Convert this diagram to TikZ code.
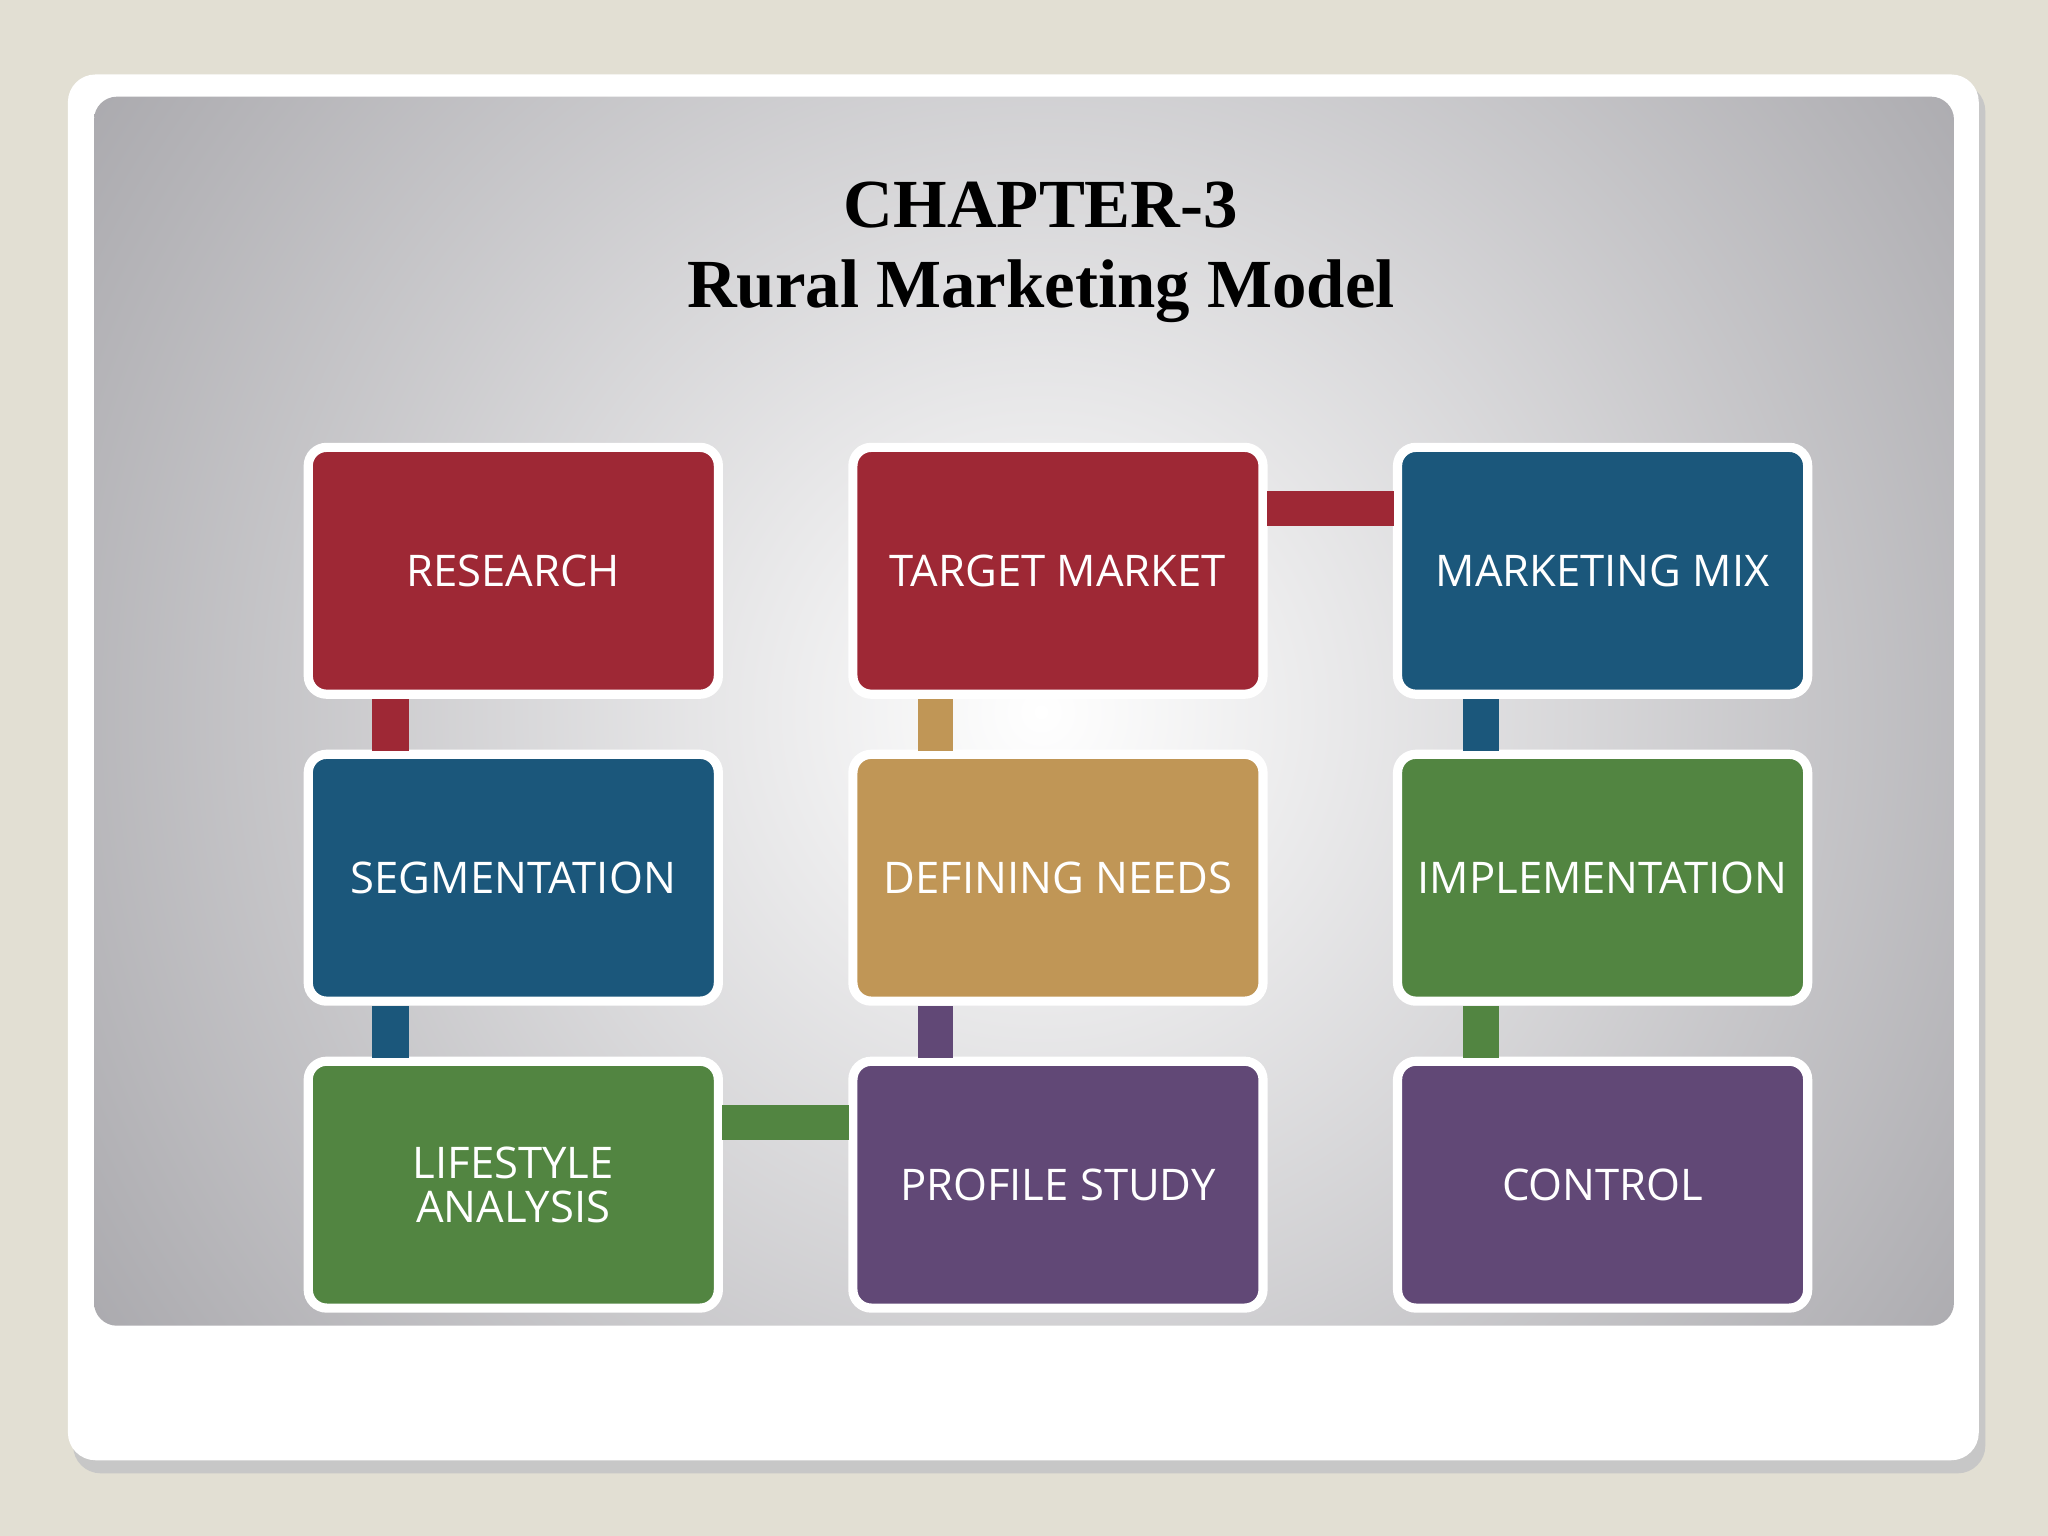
\documentclass[tikz,border=0pt]{standalone}
\usepackage{fontspec}
\setmainfont{Liberation Serif}
\newfontfamily\boxfont{Open Sans}
\definecolor{bgbeige}{HTML}{E2DFD3}
\definecolor{cred}{HTML}{9E2835}
\definecolor{cblue}{HTML}{1B577B}
\definecolor{cgold}{HTML}{C09656}
\definecolor{cgreen}{HTML}{528541}
\definecolor{cpurple}{HTML}{614876}
\definecolor{panelgray}{HTML}{9E9DA2}
\tikzset{
  stepbox/.style={draw=white,line width=2pt,rounded corners=4pt,minimum width=31.4mm,minimum height=18.9mm,
    text=white,font=\boxfont\fontsize{9.5}{9.5}\selectfont,align=center,inner sep=0pt}
}
\begin{document}
\begin{tikzpicture}[x=0.1mm,y=-0.1mm]
\useasboundingbox (0,0) rectangle (1568,1176);
\fill[bgbeige] (0,0) rectangle (1568,1176);
\fill[black!22,rounded corners=6pt] (56,64) rectangle (1520,1128);
\fill[white,rounded corners=6pt] (52,57) rectangle (1515,1118);
\begin{scope}
\clip[rounded corners=5pt] (72,74) rectangle (1496,1015);
\shade[inner color=white,outer color=panelgray] (797,545) circle (1000);
\end{scope}
\node[font=\bfseries\fontsize{15}{17.5}\selectfont,align=center] (title) at (797,193) {CHAPTER-3\\Rural Marketing Model};
% boxes
\node[stepbox,fill=cred] (research) at (393,437) {RESEARCH};
\node[stepbox,fill=cred] (target) at (810,437) {TARGET MARKET};
\node[stepbox,fill=cblue] (mix) at (1227,437) {MARKETING MIX};
\node[stepbox,fill=cblue] (seg) at (393,672) {SEGMENTATION};
\node[stepbox,fill=cgold] (needs) at (810,672) {DEFINING NEEDS};
\node[stepbox,fill=cgreen] (impl) at (1227,672) {IMPLEMENTATION};
\node[stepbox,fill=cgreen] (life) at (393,907) {LIFESTYLE\\ANALYSIS};
\node[stepbox,fill=cpurple] (profile) at (810,907) {PROFILE STUDY};
\node[stepbox,fill=cpurple] (control) at (1227,907) {CONTROL};
% connectors
\fill[cred] (285,535) rectangle (313,575);
\fill[cblue] (285,770) rectangle (313,810);
\fill[cgold] (703,535) rectangle (730,575);
\fill[cpurple] (703,770) rectangle (730,810);
\fill[cblue] (1120,535) rectangle (1148,575);
\fill[cgreen] (1120,770) rectangle (1148,810);
\fill[cred] (970,376) rectangle (1067,403);
\fill[cgreen] (553,846) rectangle (650,873);
\end{tikzpicture}
\end{document}
